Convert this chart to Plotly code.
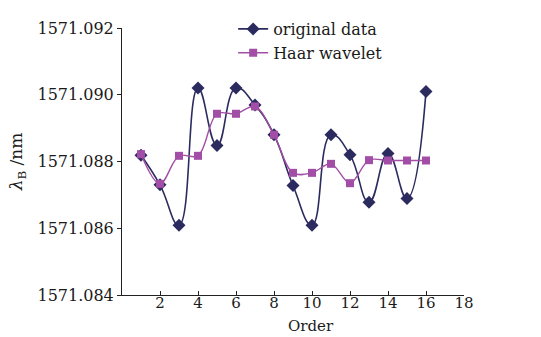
import plotly.graph_objects as go

order = list(range(1, 17))
original_data = [1571.08819, 1571.08730, 1571.08609, 1571.09020, 1571.08848, 1571.09020,
                 1571.08969, 1571.08880, 1571.08728, 1571.08609, 1571.08880, 1571.08820,
                 1571.08678, 1571.08824, 1571.08689, 1571.09010]
haar_wavelet = [1571.08822, 1571.08733, 1571.08817, 1571.08817, 1571.08943, 1571.08943,
                1571.08965, 1571.08880, 1571.08766, 1571.08766, 1571.08793, 1571.08735,
                1571.08804, 1571.08803, 1571.08803, 1571.08803]
x_ticks = [2, 4, 6, 8, 10, 12, 14, 16, 18]
y_ticks = [1571.084, 1571.086, 1571.088, 1571.090, 1571.092]

FONT = "DejaVu Serif"
navy = "#2c2b5f"
purple = "#a24ea6"

fig = go.Figure()
fig.add_trace(go.Scatter(
    x=order, y=original_data, name="original data", mode="lines+markers",
    line=dict(color=navy, width=1.6, shape="spline", smoothing=1.3),
    marker=dict(symbol="diamond", size=10, color=navy),
))
fig.add_trace(go.Scatter(
    x=order, y=haar_wavelet, name="Haar wavelet", mode="lines+markers",
    line=dict(color=purple, width=1.4, shape="spline", smoothing=1.0),
    marker=dict(symbol="square", size=8, color=purple),
))

fig.add_annotation(text="Order", xref="paper", yref="paper", x=0.553, y=-0.115,
                   xanchor="center", yanchor="middle", showarrow=False, borderpad=0,
                   font=dict(size=15, family=FONT, color="#1a1a1a"))

fig.update_layout(
    width=541, height=337,
    margin=dict(l=122, r=77, t=20, b=42),
    paper_bgcolor="white", plot_bgcolor="white",
    font=dict(family=FONT, size=16, color="#1a1a1a"),
    showlegend=True,
    legend=dict(x=0.325, y=1.06, xanchor="left", yanchor="top",
                bgcolor="rgba(0,0,0,0)", font=dict(size=16, family=FONT),
                itemwidth=30, tracegroupgap=0),
    xaxis=dict(range=[0, 18], tickvals=x_ticks, ticktext=[str(v) for v in x_ticks],
               showgrid=False, zeroline=False, showline=True, linecolor="#222",
               linewidth=1, ticks="inside", ticklen=4, tickcolor="#222",
               tickfont=dict(size=15), ticklabelstandoff=-6, automargin=False),
    yaxis=dict(range=[1571.084, 1571.092], tickvals=y_ticks,
               ticktext=[f"{v:.3f}" for v in y_ticks],
               showgrid=False, zeroline=False, showline=True, linecolor="#222",
               linewidth=1, ticks="outside", ticklen=4, tickcolor="#222",
               automargin=False,
               title=dict(text="<i>λ</i><sub>B</sub> /nm", standoff=10, font=dict(size=17))),
)

fig.write_html("out.html")
